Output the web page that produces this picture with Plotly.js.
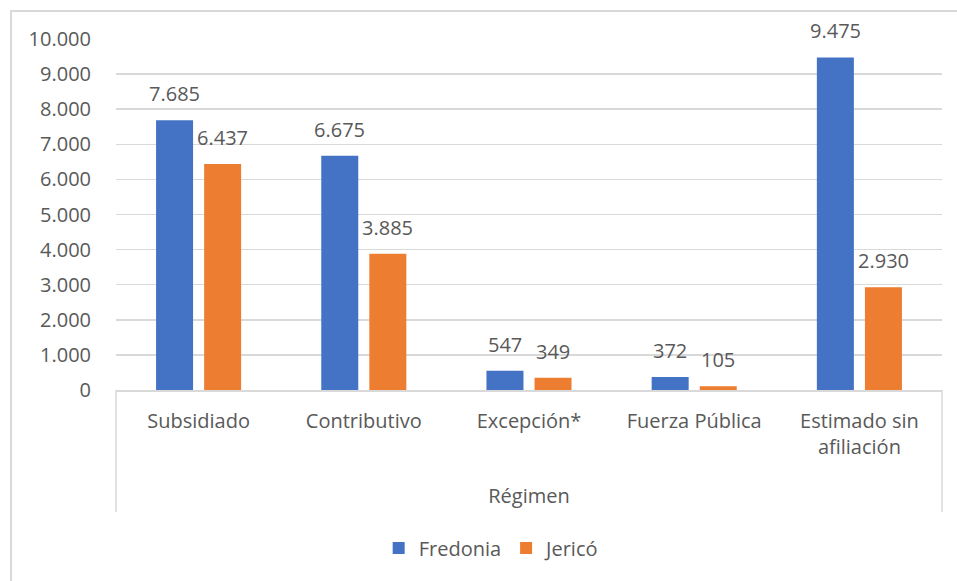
<!DOCTYPE html>
<html>
<head>
<meta charset="utf-8">
<script src="https://cdn.plot.ly/plotly-3.0.1.min.js"></script>
<style>
html,body{margin:0;padding:0;background:#fff;overflow:hidden;}
#frame{position:absolute;left:10px;top:10px;width:980px;height:600px;border-top:2px solid #d9d9d9;border-left:2px solid #d9d9d9;box-sizing:border-box;}
#chart{position:absolute;left:0;top:0;width:957px;height:581px;}
</style>
</head>
<body>
<div id="frame"></div>
<div id="chart"></div>
<script>
const categories = ["Subsidiado", "Contributivo", "Excepción*", "Fuerza Pública", "Estimado sin<br>afiliación"];
const fredonia = [7685, 6675, 547, 372, 9475];
const jerico = [6437, 3885, 349, 105, 2930];
const seriesNames = ["Fredonia", "Jericó"];
const seriesColors = ["#4472C4", "#ED7D31"];
const yTicks = [0,1000,2000,3000,4000,5000,6000,7000,8000,9000,10000];
const axisTitle = "Régimen";

const font = {family: "Open Sans, Liberation Sans, sans-serif", size: 20, color: "#595959"};
const grid = "#d9d9d9";
const fmt = v => v.toLocaleString("de-DE");

const series = [fredonia, jerico];
const traces = series.map((vals, i) => ({
  type:"bar", name:seriesNames[i], x:categories, y:vals,
  marker:{color:seriesColors[i]}, hoverinfo:"none"
}));

const shifts = [-24, 24];
const annotations = [];
series.forEach((vals, i) => {
  vals.forEach((v, j) => {
    annotations.push({x:categories[j], y:v, xref:"x", yref:"y", text:fmt(v),
      showarrow:false, xanchor:"center", yanchor:"bottom", xshift:shifts[i], yshift:11,
      font:font});
  });
});

const bottomPx = 512, axisPx = 390, topPx = 39;
const vy = (axisPx - bottomPx) / (axisPx - topPx);

const layout = {
  width:957, height:581,
  margin:{l:116, r:15, t:39, b:191, autoexpand:false},
  paper_bgcolor:"rgba(0,0,0,0)", plot_bgcolor:"rgba(0,0,0,0)",
  separators:",.",
  font:font,
  barmode:"group", bargap:0.418, bargroupgap:0.23,
  showlegend:true,
  legend:{orientation:"h", x:0.318, xanchor:"left", y:-0.45, yanchor:"middle",
          font:font, bgcolor:"rgba(0,0,0,0)", itemwidth:30, traceorder:"normal"},
  xaxis:{type:"category", showline:true, linecolor:grid, linewidth:1.5,
         ticks:"outside", ticklen:12, tickcolor:"rgba(0,0,0,0)", tickfont:font,
         automargin:false, fixedrange:true,
         title:{text:axisTitle, font:font, standoff:30}},
  yaxis:{range:[0,10000], tickvals:yTicks, tickformat:",d", showgrid:true,
         gridcolor:grid, gridwidth:1.5, zeroline:false, showline:false,
         ticks:"outside", ticklen:20, tickcolor:"rgba(0,0,0,0)", tickfont:font,
         automargin:false, fixedrange:true},
  annotations:annotations,
  shapes:[
    {type:"line", xref:"paper", yref:"paper", x0:0, x1:0, y0:0, y1:vy, line:{color:grid, width:1.5}},
    {type:"line", xref:"paper", yref:"paper", x0:1, x1:1, y0:0, y1:vy, line:{color:grid, width:1.5}}
  ]
};

Plotly.newPlot("chart", traces, layout, {displayModeBar:false, staticPlot:true});
</script>
</body>
</html>
